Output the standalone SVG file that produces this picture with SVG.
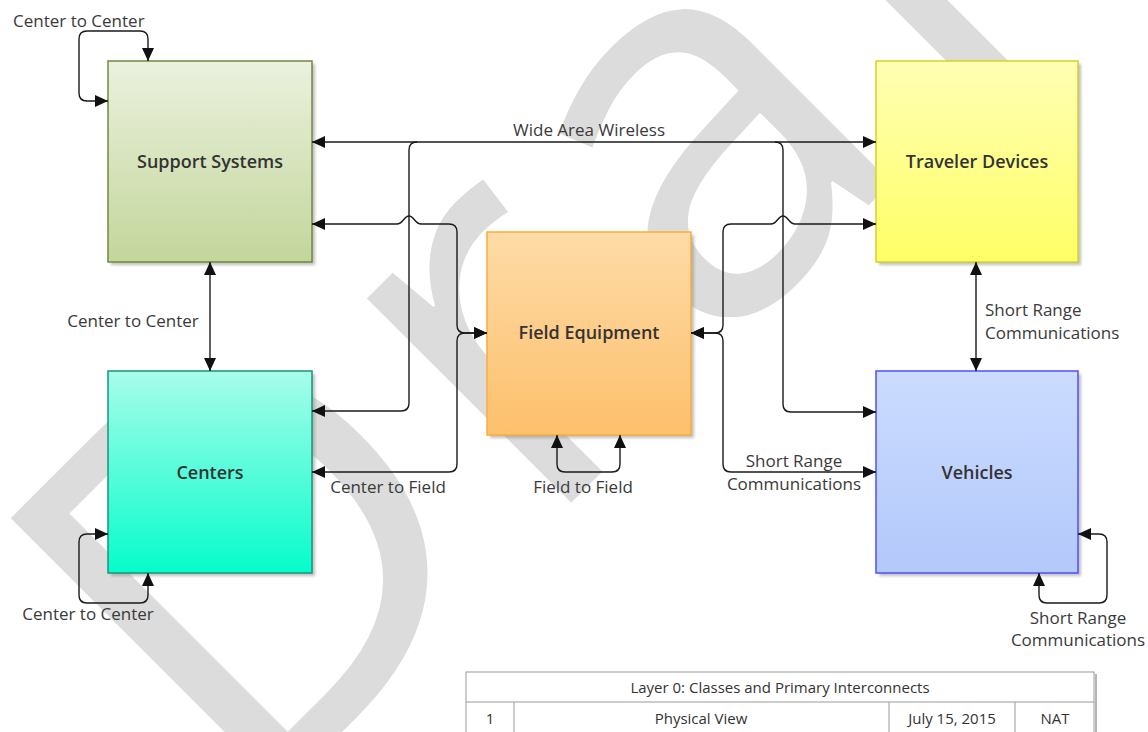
<svg xmlns="http://www.w3.org/2000/svg" width="1148" height="732" viewBox="0 0 1148 732">
<defs>
<linearGradient id="gSS" x1="0" y1="0" x2="0" y2="1"><stop offset="0" stop-color="#ebf1de"/><stop offset="1" stop-color="#c3d69b"/></linearGradient>
<linearGradient id="gCE" x1="0" y1="0" x2="0" y2="1"><stop offset="0" stop-color="#a8fdea"/><stop offset="1" stop-color="#06fccb"/></linearGradient>
<linearGradient id="gFE" x1="0" y1="0" x2="0" y2="1"><stop offset="0" stop-color="#fedba7"/><stop offset="1" stop-color="#fdc06c"/></linearGradient>
<linearGradient id="gTD" x1="0" y1="0" x2="0" y2="1"><stop offset="0" stop-color="#ffffb4"/><stop offset="1" stop-color="#ffff66"/></linearGradient>
<linearGradient id="gVE" x1="0" y1="0" x2="0" y2="1"><stop offset="0" stop-color="#cbdcff"/><stop offset="1" stop-color="#b3c8fb"/></linearGradient>
<filter id="blur" x="-10%" y="-10%" width="120%" height="120%"><feGaussianBlur stdDeviation="1.5"/></filter>
<marker id="arr" viewBox="0 0 13 12" refX="13" refY="6" markerWidth="13" markerHeight="12" markerUnits="userSpaceOnUse" orient="auto-start-reverse"><path d="M0,0 L13,6 L0,12 Z" fill="#111"/></marker>
</defs>
<style>
.shadow{fill:#8c8c8c;opacity:.55;filter:url(#blur)}
.box{stroke-width:1.5}
.nlabel{font-family:"Open Sans","Liberation Sans",sans-serif;font-size:18px;font-weight:600;fill:#333333;text-anchor:middle}
.clabel{font-family:"Open Sans","Liberation Sans",sans-serif;font-size:17px;fill:#3a3a3a}
.mid{text-anchor:middle}
.conn path{fill:none;stroke:#1a1a1a;stroke-width:1.4}
.both{marker-start:url(#arr);marker-end:url(#arr)}
.end{marker-end:url(#arr)}
.tb{font-family:"Open Sans","Liberation Sans",sans-serif;font-size:15px;fill:#333;text-anchor:middle}
</style>
<rect x="0" y="0" width="1148" height="732" fill="#ffffff"/>
<text id="watermark" x="0" y="0" transform="translate(246 828) rotate(-45)" font-family="'Open Sans','Liberation Sans',sans-serif" font-size="540" letter-spacing="22" fill="#dcdcdc">Draft</text>

<g id="support-systems">
<rect class="shadow" x="111" y="64" width="204" height="201"/>
<rect class="box" x="108" y="61" width="204" height="201" fill="url(#gSS)" stroke="#71893f"/>
<text class="nlabel" x="210" y="168">Support Systems</text>
</g>
<g id="centers">
<rect class="shadow" x="111" y="374" width="204" height="202"/>
<rect class="box" x="108" y="371" width="204" height="202" fill="url(#gCE)" stroke="#17947a"/>
<text class="nlabel" x="210" y="479">Centers</text>
</g>
<g id="field-equipment">
<rect class="shadow" x="490" y="235" width="204" height="203"/>
<rect class="box" x="487" y="232" width="204" height="203" fill="url(#gFE)" stroke="#f9ad3a"/>
<text class="nlabel" x="589" y="339">Field Equipment</text>
</g>
<g id="traveler-devices">
<rect class="shadow" x="879" y="64" width="202" height="201"/>
<rect class="box" x="876" y="61" width="202" height="201" fill="url(#gTD)" stroke="#d3d324"/>
<text class="nlabel" x="977" y="168">Traveler Devices</text>
</g>
<g id="vehicles">
<rect class="shadow" x="879" y="374" width="202" height="202"/>
<rect class="box" x="876" y="371" width="202" height="202" fill="url(#gVE)" stroke="#4f4fff"/>
<text class="nlabel" x="977" y="479">Vehicles</text>
</g>

<g id="connectors" class="conn">
<path class="both" d="M108 101 L87 101 Q79 101 79 93 L79 39 Q79 31 87 31 L140 31 Q148 31 148 39 L148 61"/>
<path class="both" d="M210 262 L210 371"/>
<path class="both" d="M108 534 L87 534 Q79 534 79 542 L79 595 Q79 603 87 603 L140 603 Q148 603 148 595 L148 573"/>
<path class="both" d="M312 142 L876 142"/>
<path class="end" d="M417 142 Q409 142 409 150 L409 403 Q409 411 401 411 L312 411"/>
<path class="end" d="M775 142 Q783 142 783 150 L783 404 Q783 412 791 412 L876 412"/>
<path class="both" d="M312 224 L397 224 C403 224 404 216 409 216 C414 216 415 224 421 224 L449 224 Q457 224 457 232 L457 325 Q457 333 465 333 L487 333"/>
<path class="both" d="M312 472 L449 472 Q457 472 457 464 L457 341 Q457 333 465 333 L487 333"/>
<path class="both" d="M876 224 L795 224 C789 224 788 216 783 216 C778 216 777 224 771 224 L731 224 Q723 224 723 232 L723 325 Q723 333 715 333 L691 333"/>
<path class="both" d="M876 472 L731 472 Q723 472 723 464 L723 341 Q723 333 715 333 L691 333"/>
<path class="both" d="M557 435 L557 464 Q557 472 565 472 L612 472 Q620 472 620 464 L620 435"/>
<path class="both" d="M976 262 L976 371"/>
<path class="both" d="M1078 534 L1099 534 Q1107 534 1107 542 L1107 595 Q1107 603 1099 603 L1047 603 Q1039 603 1039 595 L1039 573"/>
</g>

<g id="connector-labels">
<text class="clabel" x="13" y="27">Center to Center</text>
<text class="clabel mid" x="133" y="327">Center to Center</text>
<text class="clabel mid" x="88" y="620">Center to Center</text>
<text class="clabel mid" x="589" y="136">Wide Area Wireless</text>
<text class="clabel mid" x="388" y="493">Center to Field</text>
<text class="clabel mid" x="583" y="493">Field to Field</text>
<text class="clabel mid" x="794" y="467">Short Range</text>
<text class="clabel mid" x="794" y="490">Communications</text>
<text class="clabel" x="985" y="316">Short Range</text>
<text class="clabel" x="985" y="339">Communications</text>
<text class="clabel mid" x="1078" y="624">Short Range</text>
<text class="clabel mid" x="1078" y="646">Communications</text>
</g>

<g id="title-block">
<line x1="1096" y1="674" x2="1096" y2="732" stroke="#b5b5b5" stroke-width="2"/>
<rect x="466" y="672" width="628" height="70" fill="#ffffff" stroke="#9a9a9a" stroke-width="1"/>
<line x1="466" y1="702" x2="1094" y2="702" stroke="#9a9a9a" stroke-width="1"/>
<line x1="514" y1="702" x2="514" y2="732" stroke="#9a9a9a" stroke-width="1"/>
<line x1="889" y1="702" x2="889" y2="732" stroke="#9a9a9a" stroke-width="1"/>
<line x1="1015" y1="702" x2="1015" y2="732" stroke="#9a9a9a" stroke-width="1"/>
<text class="tb" x="780" y="693">Layer 0: Classes and Primary Interconnects</text>
<text class="tb" x="490" y="724">1</text>
<text class="tb" x="701" y="724">Physical View</text>
<text class="tb" x="952" y="724">July 15, 2015</text>
<text class="tb" x="1055" y="724">NAT</text>
</g>
</svg>
